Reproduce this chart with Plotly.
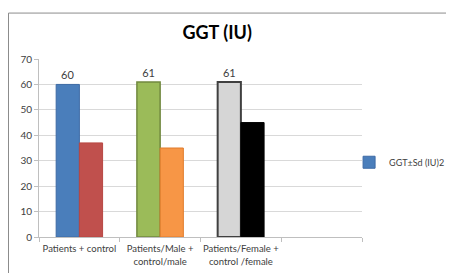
import plotly.graph_objects as go

categories = ["Patients + control", "Patients/Male +<br>control/male", "Patients/Female +<br>control /female", " "]
patients = [60, 61, 61]
controls = [37, 35, 45]
patient_colors = ["#4a7ebb", "#9bbb59", "#d6d6d6"]
patient_lines = ["#3d6aa5", "#71893f", "#404040"]
control_colors = ["#c0504d", "#f79646", "#000000"]
control_lines = ["#b84743", "#e07b2a", "#000000"]
series_name = "GGT±Sd (IU)2"

font = "Lato, Open Sans, sans-serif"

fig = go.Figure()
fig.add_trace(go.Bar(
    x=categories[:3], y=patients, name=series_name,
    marker=dict(color=patient_colors, line=dict(color=patient_lines, width=[1, 1.5, 2])),
    text=[str(v) for v in patients], textposition="outside",
    textfont=dict(family=font, size=11, color="#404040"),
    cliponaxis=False, showlegend=True,
))
fig.add_trace(go.Bar(
    x=categories[:3], y=controls, name="control",
    marker=dict(color=control_colors, line=dict(color=control_lines, width=1)),
    showlegend=False,
))

# the page body has an 8px margin, so the figure is laid out 8px smaller
fig.update_layout(
    width=446, height=265,
    margin=dict(l=31, r=92, t=51, b=36, autoexpand=False),
    paper_bgcolor="white", plot_bgcolor="white",
    barmode="group", bargap=0.425, bargroupgap=0,
    title=dict(text="<b>GGT (IU)</b>", x=0.469, xanchor="center", y=0.906, yanchor="middle",
               font=dict(family=font, size=18, color="#000000")),
    legend=dict(x=0.96, y=0.42, xanchor="left", yanchor="middle",
                font=dict(family=font, size=9, color="#404040"),
                itemwidth=30, bgcolor="rgba(0,0,0,0)"),
    showlegend=True,
)
fig.update_xaxes(
    type="category", categoryorder="array", categoryarray=categories,
    range=[-0.5, 3.5], tickson="boundaries", ticks="outside", ticklen=4,
    tickcolor="#bfbfbf", showline=True, linecolor="#bfbfbf", linewidth=1,
    tickangle=0, automargin=False, ticklabelstandoff=3,
    tickfont=dict(family=font, size=9.5, color="#404040"), showgrid=False,
)
fig.update_yaxes(
    range=[0, 70], dtick=10, ticks="outside", ticklen=4, tickcolor="#bfbfbf",
    showline=True, linecolor="#bfbfbf", showgrid=True, gridcolor="#d9d9d9",
    automargin=False,
    tickfont=dict(family=font, size=10, color="#404040"), zeroline=False,
)
# outer frame (top and left edges)
fig.add_shape(type="line", xref="paper", yref="paper", x0=-0.0944, x1=1.3, y0=1.258, y1=1.258,
              line=dict(color="#8c8c8c", width=1))
fig.add_shape(type="line", xref="paper", yref="paper", x0=-0.0944, x1=-0.0944, y0=1.258, y1=-0.25,
              line=dict(color="#8c8c8c", width=1))

fig.write_html("out.html")
